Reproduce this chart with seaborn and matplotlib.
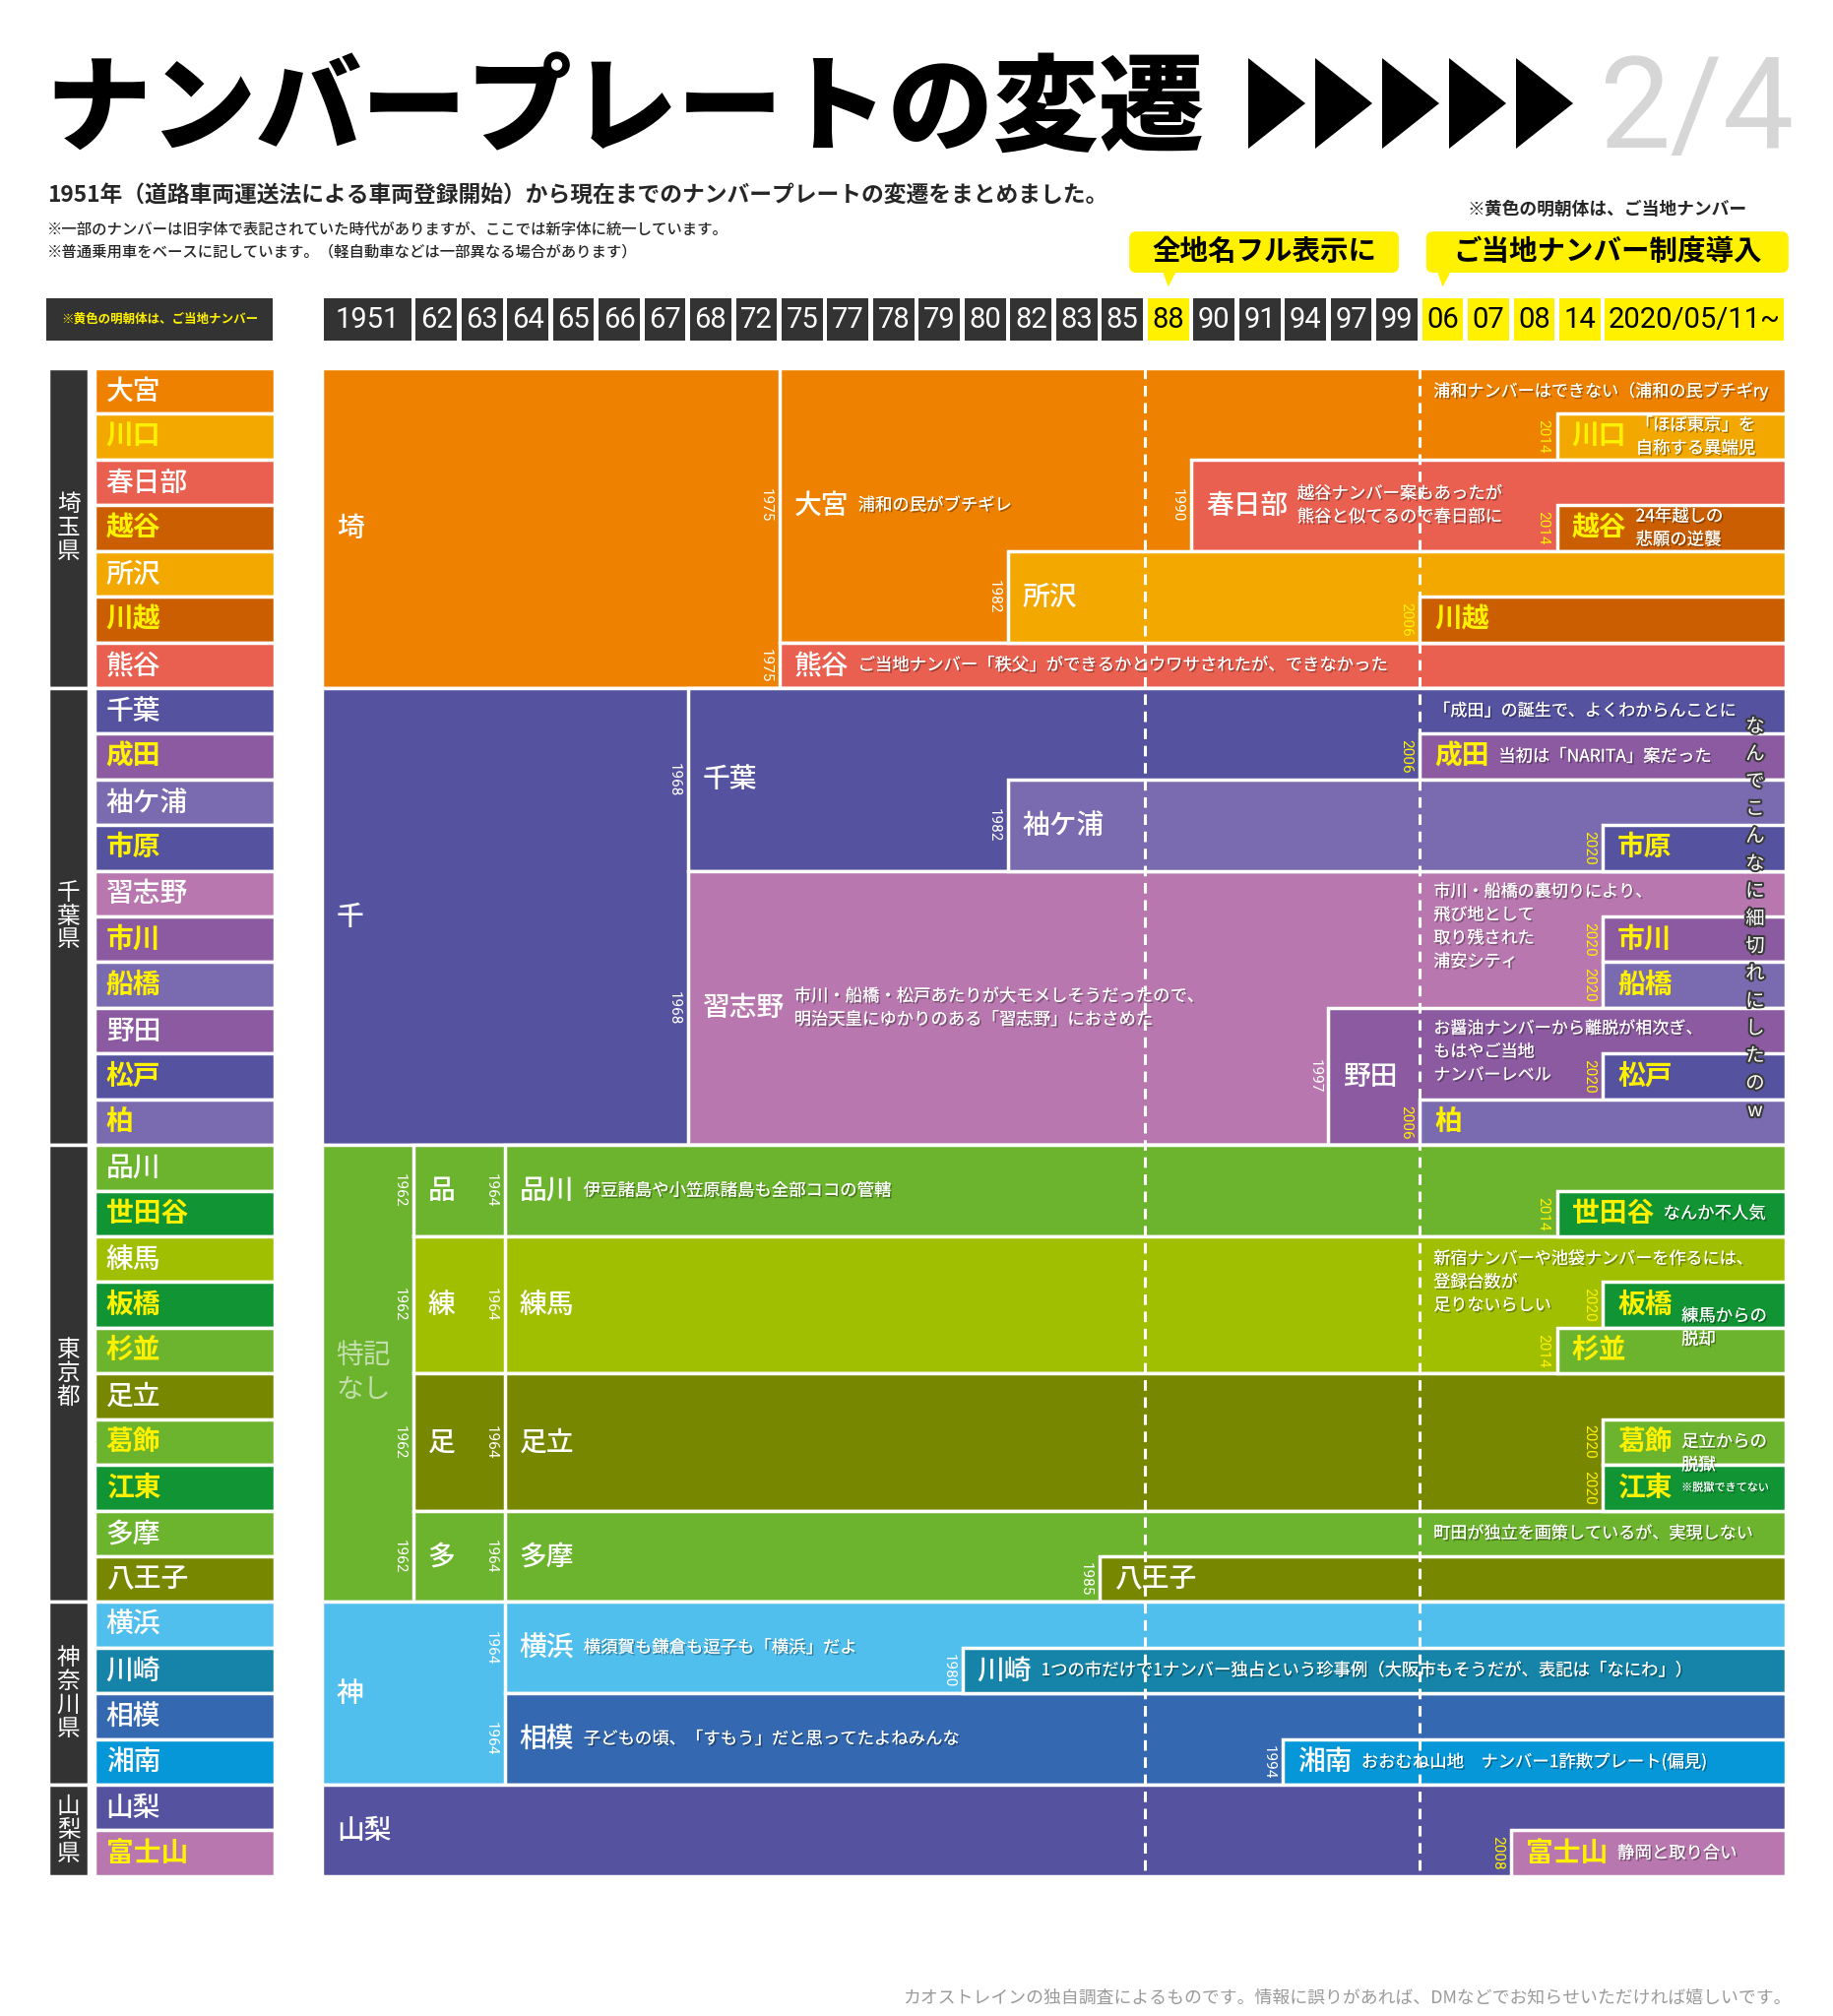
import numpy as np
import seaborn as sns
import matplotlib.pyplot as plt
import matplotlib.patheffects as pe
from matplotlib.patches import FancyBboxPatch, Polygon

sns.set_theme(style="white")
plt.rcParams['font.family'] = ['Noto Sans CJK JP', 'DejaVu Sans']

# %%
# timeline columns (header). widths in "column units"
col_labels = ["1951", "62", "63", "64", "65", "66", "67", "68", "72", "75", "77", "78", "79",
              "80", "82", "83", "85", "88", "90", "91", "94", "97", "99", "06", "07", "08", "14",
              "2020/05/11~"]
col_years = [1951, 1962, 1963, 1964, 1965, 1966, 1967, 1968, 1972, 1975, 1977, 1978, 1979,
             1980, 1982, 1983, 1985, 1988, 1990, 1991, 1994, 1997, 1999, 2006, 2007, 2008, 2014,
             2020]
col_spans = [2] + [1] * 26 + [4]
yellow_cols = ["88", "06", "07", "08", "14", "2020/05/11~"]
milestone_years = [1988, 2006]
milestone_text = ["全地名フル表示に", "ご当地ナンバー制度導入"]

# left side rows
pref_names = ["埼玉県", "千葉県", "東京都", "神奈川県", "山梨県"]
pref_sizes = [7, 10, 10, 4, 2]
row_names = ["大宮", "川口", "春日部", "越谷", "所沢", "川越", "熊谷",
             "千葉", "成田", "袖ケ浦", "市原", "習志野", "市川", "船橋", "野田", "松戸", "柏",
             "品川", "世田谷", "練馬", "板橋", "杉並", "足立", "葛飾", "江東", "多摩", "八王子",
             "横浜", "川崎", "相模", "湘南",
             "山梨", "富士山"]
row_colors = ["O", "A", "C", "D", "A", "D", "C",
              "I", "U", "L", "I", "P", "U", "L", "U", "I", "L",
              "G", "DG", "YG", "DG", "G", "OL", "G", "DG", "G", "OL",
              "LB", "T", "B", "CY",
              "I", "P"]
local_names = ["川口", "越谷", "川越", "成田", "市原", "市川", "船橋", "松戸", "柏",
               "世田谷", "板橋", "杉並", "葛飾", "江東", "富士山"]

# plate blocks: name, first year, first row, number of rows, colour
block_name = ["埼", "大宮", "熊谷", "川口", "春日部", "越谷", "所沢", "川越",
              "千", "千葉", "習志野", "成田", "袖ケ浦", "市原", "市川", "船橋", "野田", "松戸", "柏",
              "特記なし", "品", "練", "足", "多", "品川", "練馬", "足立", "多摩",
              "世田谷", "板橋", "杉並", "葛飾", "江東", "八王子",
              "神", "横浜", "相模", "川崎", "湘南",
              "山梨", "富士山"]
block_start = [1951, 1975, 1975, 2014, 1990, 2014, 1982, 2006,
               1951, 1968, 1968, 2006, 1982, 2020, 2020, 2020, 1997, 2020, 2006,
               1951, 1962, 1962, 1962, 1962, 1964, 1964, 1964, 1964,
               2014, 2020, 2014, 2020, 2020, 1985,
               1951, 1964, 1964, 1980, 1994,
               1951, 2008]
block_row = [0, 0, 6, 1, 2, 3, 4, 5,
             7, 7, 11, 8, 9, 10, 12, 13, 14, 15, 16,
             17, 17, 19, 22, 25, 17, 19, 22, 25,
             18, 20, 21, 23, 24, 26,
             27, 27, 29, 28, 30,
             31, 32]
block_nrows = [7, 6, 1, 1, 2, 1, 2, 1,
               10, 4, 6, 1, 2, 1, 1, 1, 3, 1, 1,
               10, 2, 3, 3, 2, 2, 3, 3, 2,
               1, 1, 1, 1, 1, 1,
               4, 2, 2, 1, 1,
               2, 1]
block_color = ["O", "O", "C", "A", "C", "D", "A", "D",
               "I", "I", "P", "U", "L", "I", "U", "L", "U", "I", "L",
               "G", "G", "YG", "OL", "G", "G", "YG", "OL", "G",
               "DG", "DG", "G", "G", "DG", "OL",
               "LB", "LB", "B", "T", "CY",
               "I", "P"]

palette = {"O": "#EE8200", "A": "#F3A800", "C": "#E96050", "D": "#CA5E00",
           "I": "#55529F", "U": "#8C5AA0", "L": "#7A6AAF", "P": "#B877AE",
           "G": "#6CB42D", "DG": "#119434", "YG": "#A0BF00", "OL": "#788700",
           "LB": "#50BFEE", "T": "#1584A8", "B": "#3468B0", "CY": "#0597D7"}

# comments written right after a block name
block_notes = {
    "大宮": "浦和の民がブチギレ",
    "熊谷": "ご当地ナンバー「秩父」ができるかとウワサされたが、できなかった",
    "川口": "「ほぼ東京」を\n自称する異端児",
    "春日部": "越谷ナンバー案もあったが\n熊谷と似てるので春日部に",
    "越谷": "24年越しの\n悲願の逆襲",
    "成田": "当初は「NARITA」案だった",
    "習志野": "市川・船橋・松戸あたりが大モメしそうだったので、\n明治天皇にゆかりのある「習志野」におさめた",
    "品川": "伊豆諸島や小笠原諸島も全部ココの管轄",
    "世田谷": "なんか不人気",
    "板橋": "練馬からの\n脱却",
    "葛飾": "足立からの\n脱獄",
    "江東": "※脱獄できてない",
    "横浜": "横須賀も鎌倉も逗子も「横浜」だよ",
    "川崎": "1つの市だけで1ナンバー独占という珍事例（大阪市もそうだが、表記は「なにわ」）",
    "相模": "子どもの頃、「すもう」だと思ってたよねみんな",
    "湘南": "おおむね山地　ナンバー1詐欺プレート(偏見)",
    "富士山": "静岡と取り合い",
}
# comments anchored at the 2006 column
free_notes = ["浦和ナンバーはできない（浦和の民ブチギry",
              "「成田」の誕生で、よくわからんことに",
              "市川・船橋の裏切りにより、\n飛び地として\n取り残された\n浦安シティ",
              "お醤油ナンバーから離脱が相次ぎ、\nもはやご当地\nナンバーレベル",
              "新宿ナンバーや池袋ナンバーを作るには、\n登録台数が\n足りないらしい",
              "町田が独立を画策しているが、実現しない"]
free_rows = [0.5, 7.5, 12.22, 14.96, 20.0, 25.5]
side_comment = "なんでこんなに細切れにしたのw"

title = "ナンバープレートの変遷"
subtitle = "1951年（道路車両運送法による車両登録開始）から現在までのナンバープレートの変遷をまとめました。"
notes = ["※一部のナンバーは旧字体で表記されていた時代がありますが、ここでは新字体に統一しています。",
         "※普通乗用車をベースに記しています。（軽自動車などは一部異なる場合があります）"]
legend_note = "※黄色の明朝体は、ご当地ナンバー"
footer = "カオストレインの独自調査によるものです。情報に誤りがあれば、DMなどでお知らせいただければ嬉しいです。"

# %%
W, H = 1862, 2048
YELLOW = "#FFF100"
DARK = "#333333"
X0, PX = 327, 46.47   # timeline origin / px per column
Y0, PY = 374, 46.42   # timeline origin / px per row
fig = plt.figure(figsize=(W / 100, H / 100), dpi=100)
fig.patch.set_facecolor("white")
ax = fig.add_axes([0, 0, 1, 1])
ax.set_xlim(-X0 / PX, (W - X0) / PX)
ax.set_ylim((H - Y0) / PY, -Y0 / PY)
ax.axis("off")

edges = np.concatenate([[0], np.cumsum(col_spans)])
year_x = dict(zip(col_years, edges[:-1]))
x_end = edges[-1]
shadow = [pe.withSimplePatchShadow(offset=(1.2, -1.2), shadow_rgbFace="black", alpha=0.35), pe.Normal()]


def note_lines(x, yc, text, fs=12.5, step=0.51):
    # one text per line so the boxes stay tight
    lines = text.split("\n")
    for i, line in enumerate(lines):
        ax.text(x, yc + (i - (len(lines) - 1) / 2) * step, line, ha="left", va="center",
                fontsize=fs, color="white", zorder=5, path_effects=shadow)


# header year boxes
hdr_colors = [YELLOW if c in yellow_cols else DARK for c in col_labels]
ax.barh(y=-1.065, width=np.array(col_spans) - 0.1, left=edges[:-1] + 0.05, height=0.93,
        color=hdr_colors, edgecolor="none")
for lab, x0, sp in zip(col_labels, edges[:-1], col_spans):
    ax.text(x0 + sp / 2, -1.05, lab, ha="center", va="center", fontsize=21,
            family=["Liberation Sans Narrow", "Roboto"],
            color="black" if lab in yellow_cols else "white")

# legend box on the left of the header
ax.barh(y=-1.065, width=4.95, left=-6.02, height=0.93, color=DARK, edgecolor="none")
ax.text(-3.55, -1.065, legend_note, ha="center", va="center", fontsize=9, color=YELLOW,
        weight="bold")

# milestone callouts
bubble_off = [-0.35, 0.14]
bubble_w = [5.89, 7.92]
tip_off = [0.85, 0.36]
for yr, txt, bo, bw, to in zip(milestone_years, milestone_text, bubble_off, bubble_w, tip_off):
    x0 = year_x[yr] + bo
    ax.add_patch(FancyBboxPatch((x0 + 0.15, -2.84), bw - 0.3, 0.6,
                                boxstyle="round,pad=0.15", fc=YELLOW, ec="none"))
    tip = x0 + to
    ax.add_patch(Polygon([(tip - 0.15, -2.2), (tip + 0.22, -2.2), (tip, -1.78)],
                         closed=True, fc=YELLOW, ec="none"))
    ax.text(x0 + bw / 2, -2.55, txt, ha="center", va="center", fontsize=20.5,
            weight="bold", color="black")

# prefecture bars
pref_start = np.concatenate([[0], np.cumsum(pref_sizes)[:-1]])
ax.barh(y=pref_start + np.array(pref_sizes) / 2, width=0.9, left=-5.99, height=pref_sizes,
        color=DARK, edgecolor="white", linewidth=2.5)
for name, s, n in zip(pref_names, pref_start, pref_sizes):
    ax.text(-5.54, s + n / 2, "\n".join(name), ha="center", va="center", fontsize=17,
            color="white", linespacing=1.05)

# row name labels
rows = np.arange(len(row_names))
ax.barh(y=rows + 0.5, width=3.93, left=-4.97, height=1,
        color=[palette[c] for c in row_colors], edgecolor="white", linewidth=2.5)
for r, name in zip(rows, row_names):
    loc = name in local_names
    ax.text(-4.72, r + 0.5, name, ha="left", va="center", fontsize=20,
            color=YELLOW if loc else "white", weight="bold" if loc else "medium")

# plate blocks, parents first so children sit on top
for name, st, r, n, c in zip(block_name, block_start, block_row, block_nrows, block_color):
    x0 = year_x[st]
    ax.barh(y=r + n / 2, width=x_end - x0, left=x0, height=n, color=palette[c],
            edgecolor="white", linewidth=2.5, zorder=2)

# milestone dashed lines
ax.vlines([year_x[y] for y in milestone_years], 0, len(row_names), colors="white",
          linewidth=2.2, linestyles=(0, (3.5, 2.2)), zorder=3)

for name, st, r, n in zip(block_name, block_start, block_row, block_nrows):
    x0 = year_x[st]
    yc = r + n / 2
    loc = name in local_names
    if name == "特記なし":
        ax.text(x0 + 0.3, yc, "特記\nなし", ha="left", va="center", fontsize=20,
                color="#C3DEAA", linespacing=1.25, zorder=4)
    else:
        ax.text(x0 + 0.32, yc, name, ha="left", va="center", fontsize=20, zorder=4,
                color=YELLOW if loc else "white", weight="bold" if loc else "medium")
    if st > col_years[0]:
        ax.text(x0 - 0.3, yc, str(st), ha="center", va="center", rotation=270, fontsize=11,
                family=["Roboto", "DejaVu Sans"], zorder=4,
                color=YELLOW if loc else "white")
    if name in block_notes:
        dy = {"板橋": 0.5, "葛飾": 0.25}.get(name, 0)
        fs = 8 if name == "江東" else 12.5
        note_lines(x0 + 0.52 + 0.6 * len(name), yc + dy, block_notes[name], fs=fs)

for txt, r in zip(free_notes, free_rows):
    note_lines(year_x[2006] + 0.3, r, txt, fs=12.3)

ax.text(31.33, 12.05, "\n".join(side_comment), ha="center", va="center", fontsize=14,
        color="white", linespacing=1.43, zorder=6,
        path_effects=[pe.withStroke(linewidth=3, foreground="#3a3a3a")])

# %%
# title area (figure pixel coordinates)
def fxy(x, y):
    return x / W, 1 - y / H

fig.text(*fxy(46, 113), title, ha="left", va="center", fontsize=77, weight="heavy",
         color="black")
for i in range(5):
    x = 1268 + i * 68
    fig.add_artist(Polygon([fxy(x, 59), fxy(x + 58, 105), fxy(x, 151)], closed=True,
                           fc="black", ec="none", transform=fig.transFigure))
fig.text(*fxy(1822, 114), "2/4", ha="right", va="center", fontsize=93,
         family=["Roboto", "DejaVu Sans"], color="#D6D6D6")
fig.text(*fxy(48, 198), subtitle, ha="left", va="center", fontsize=16.4, weight="bold")
fig.text(*fxy(48, 233), notes[0], ha="left", va="center", fontsize=11.1, weight="medium")
fig.text(*fxy(48, 256), notes[1], ha="left", va="center", fontsize=11.1, weight="medium")
fig.text(*fxy(1775, 213), legend_note, ha="right", va="center", fontsize=12.8, weight="bold")
fig.text(*fxy(1820, 2030), footer, ha="right", va="center", fontsize=12.85, color="#9A9A9A")

fig.savefig("out.png", dpi=100, facecolor="white")
